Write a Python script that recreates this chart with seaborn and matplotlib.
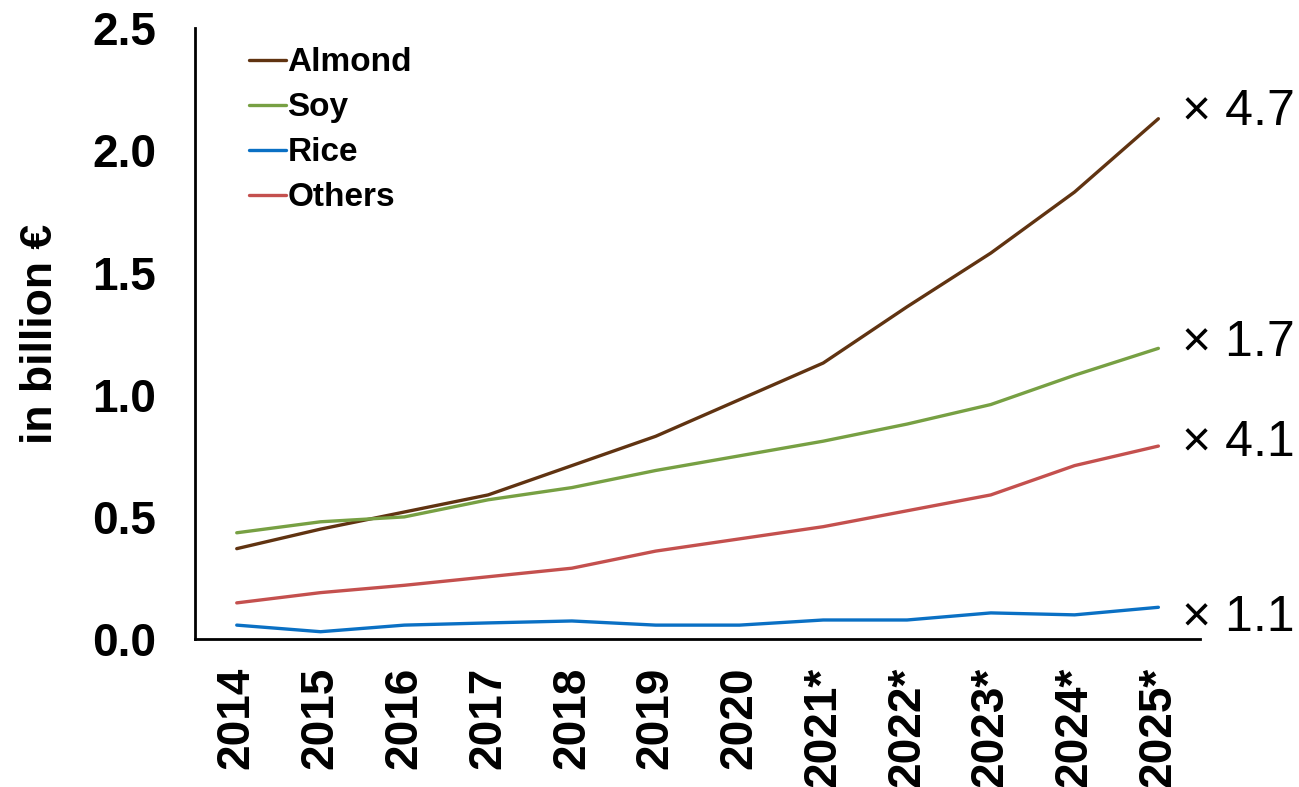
import matplotlib
matplotlib.use("Agg")
import matplotlib.pyplot as plt
import seaborn as sns
import pandas as pd

years = ["2014", "2015", "2016", "2017", "2018", "2019", "2020",
         "2021*", "2022*", "2023*", "2024*", "2025*"]
almond = [0.37, 0.45, 0.52, 0.59, 0.71, 0.83, 0.98, 1.13, 1.36, 1.58, 1.83, 2.13]
soy = [0.435, 0.48, 0.50, 0.57, 0.62, 0.69, 0.75, 0.81, 0.88, 0.96, 1.08, 1.19]
rice = [0.057, 0.03, 0.057, 0.066, 0.074, 0.057, 0.057, 0.078, 0.078, 0.107, 0.099, 0.13]
others = [0.148, 0.19, 0.22, 0.255, 0.29, 0.36, 0.41, 0.46, 0.525, 0.59, 0.71, 0.79]
series_names = ["Almond", "Soy", "Rice", "Others"]
growth_labels = ["× 4.7", "× 1.7", "× 1.1", "× 4.1"]
colors = ["#603311", "#77A043", "#0A70C4", "#C4504E"]

sns.set_theme(style="white")
plt.rcParams["font.family"] = ["Liberation Sans", "DejaVu Sans"]
plt.rcParams["text.color"] = "black"
plt.rcParams["xtick.color"] = "black"
plt.rcParams["ytick.color"] = "black"
plt.rcParams["axes.labelcolor"] = "black"

values = [almond, soy, rice, others]
rows = []
for name, vals in zip(series_names, values):
    for i, v in enumerate(vals):
        rows.append({"idx": i, "value": v, "series": name})
df = pd.DataFrame(rows)

fig = plt.figure(figsize=(12.99, 7.87), dpi=100)
ax = fig.add_axes([0.150, 0.188, 0.774, 0.776])
sns.lineplot(data=df, x="idx", y="value", hue="series", hue_order=series_names,
             palette=colors, linewidth=2.4, ax=ax)

ax.set_xlim(-0.5, len(years) - 0.5)
ax.set_ylim(0, 2.5)
ax.set_xticks(range(len(years)))
ax.set_xticklabels(years, rotation=90, fontsize=33, fontweight="bold")
ax.set_yticks([0, 0.5, 1.0, 1.5, 2.0, 2.5])
ax.set_yticklabels(["0.0", "0.5", "1.0", "1.5", "2.0", "2.5"], fontsize=33, fontweight="bold")
ax.tick_params(axis="x", length=0, pad=20)
ax.tick_params(axis="y", length=0, pad=28)
ax.set_xlabel("")
ax.set_ylabel("in billion €", fontsize=32, fontweight="bold", labelpad=22)

for side in ["top", "right"]:
    ax.spines[side].set_visible(False)
for side in ["left", "bottom"]:
    ax.spines[side].set_color("black")
    ax.spines[side].set_linewidth(2)

offsets = [5, 4, -8, 2]
for name, vals, lab, off in zip(series_names, values, growth_labels, offsets):
    ax.annotate(lab, xy=(len(vals) - 1, vals[-1]), xytext=(17, off),
                textcoords="offset points", fontsize=36, va="center", ha="left",
                annotation_clip=False)

leg = ax.legend(loc="upper left", bbox_to_anchor=(0.024, 1.018), frameon=False,
                fontsize=24, handlelength=1.1, handletextpad=0.05, labelspacing=0.42)
for t in leg.get_texts():
    t.set_fontweight("bold")

fig.savefig("out.png", dpi=100)
